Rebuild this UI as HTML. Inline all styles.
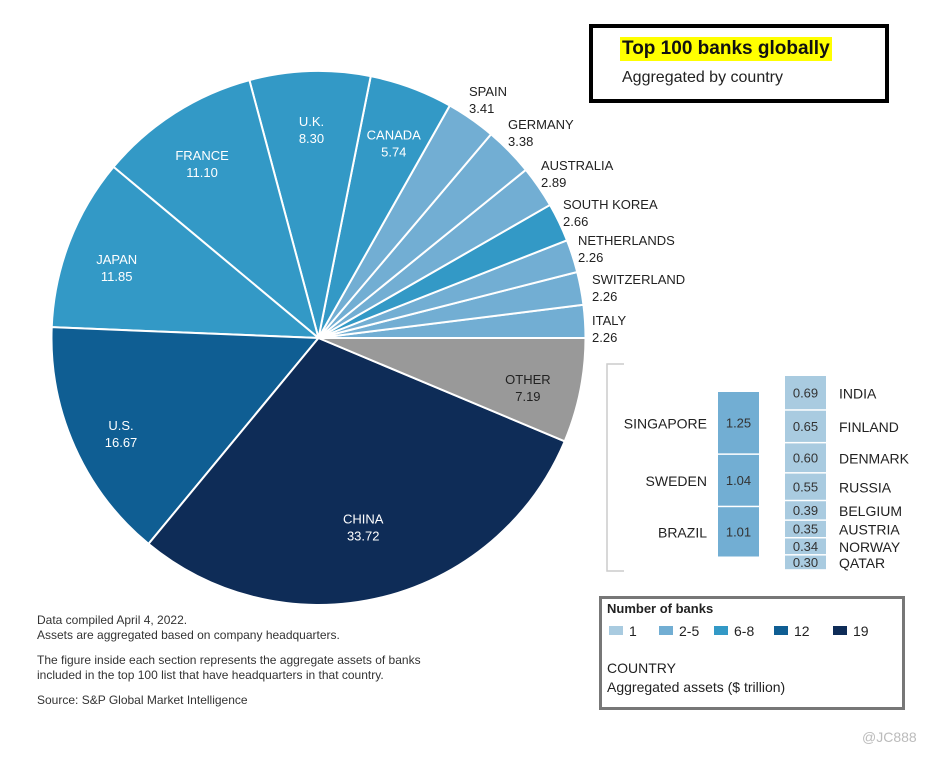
<!DOCTYPE html>
<html><head><meta charset="utf-8">
<style>
body{margin:0;background:#fff;width:941px;height:757px;overflow:hidden;font-family:"Liberation Sans",sans-serif;position:relative}
.t{position:absolute;color:#222;font-size:13px;line-height:16px}
svg{position:absolute;left:0;top:0}
</style></head><body>
<svg width="941" height="757" id="chart"></svg>

<div style="position:absolute;left:589px;top:24px;width:292px;height:71px;border:4px solid #000;box-sizing:content-box"></div>
<div class="t" style="left:620px;top:37px;font-size:19px;line-height:24px;font-weight:bold;color:#111;background:#ffff00;padding:0 2px">Top 100 banks globally</div>
<div class="t" style="left:622px;top:68px;font-size:16px;line-height:20px">Aggregated by country</div>

<div class="t" style="left:37px;top:613px;font-size:12px;line-height:15px;color:#333">Data compiled April 4, 2022.<br>Assets are aggregated based on company headquarters.<div style="height:10px"></div>The figure inside each section represents the aggregate assets of banks<br>included in the top 100 list that have headquarters in that country.<div style="height:10px"></div>Source: S&amp;P Global Market Intelligence</div>

<div style="position:absolute;left:599px;top:596px;width:300px;height:108px;border:3px solid #777"></div>
<div class="t" style="left:607px;top:601px;font-weight:bold">Number of banks</div>
<div class="t" style="left:607px;top:659px;font-size:14px;line-height:19px">COUNTRY<br>Aggregated assets ($ trillion)</div>
<div class="t" style="left:862px;top:729px;color:#bbb;font-size:14px">@JC888</div>

<script>
const countries=["ITALY","SWITZERLAND","NETHERLANDS","SOUTH KOREA","AUSTRALIA","GERMANY","SPAIN","CANADA","U.K.","FRANCE","JAPAN","U.S.","CHINA","OTHER"];
const assets=[2.26,2.26,2.26,2.66,2.89,3.38,3.41,5.74,8.30,11.10,11.85,16.67,33.72,7.19];
const bankGroup=[1,1,1,2,1,1,1,2,2,2,2,3,4,-1];
const otherLeft=["SINGAPORE","SWEDEN","BRAZIL"];
const otherLeftVals=[1.25,1.04,1.01];
const otherRight=["INDIA","FINLAND","DENMARK","RUSSIA","BELGIUM","AUSTRIA","NORWAY","QATAR"];
const otherRightVals=[0.69,0.65,0.60,0.55,0.39,0.35,0.34,0.30];
const legendLabels=["1","2-5","6-8","12","19"];
const colors=["#a9cbe0","#72aed3","#3399c6","#0f5e93","#0e2c57"];
const NS="http://www.w3.org/2000/svg";
const svg=document.getElementById('chart');
function el(t,a){const e=document.createElementNS(NS,t);for(const k in a)e.setAttribute(k,a[k]);svg.appendChild(e);return e;}
const cx=318.5,cy=338,R=267;
const total=assets.reduce((a,b)=>a+b,0);
function pt(ang,r){return [cx+r*Math.cos(ang),cy-r*Math.sin(ang)];}
let a0=0;
const outside={0:[592,313],1:[592,272],2:[578,233],3:[563,197],4:[541,158],5:[508,117],6:[469,84]};
assets.forEach((v,i)=>{
  const da=v/total*2*Math.PI;let a1=a0+da;
  const p0=pt(a0,R),p1=pt(a1,R);
  const p=el('path',{d:`M${cx},${cy}L${p0[0]},${p0[1]}A${R},${R} 0 ${da>Math.PI?1:0} 0 ${p1[0]},${p1[1]}Z`,fill:bankGroup[i]<0?'#999999':colors[bankGroup[i]],stroke:'#fff','stroke-width':2});
  
  
  const mid=(a0+a1)/2;let x,y,anchor='middle',col='#fff';
  if(outside[i]){[x,y]=outside[i];anchor='start';col='#222';}
  else{const f=i==13?0.8:(i==12?0.7:0.81);[x,y]=pt(mid,R*f);y-=8;}
  const t1=el('text',{x:x,y:y+12,'text-anchor':anchor,fill:col,'font-size':13,'font-family':'Liberation Sans, sans-serif'});
  t1.textContent=countries[i];
  
  
  if(i==13)t1.setAttribute('fill','#222');
  const t2=el('text',{x:x,y:y+29,'text-anchor':anchor,fill:i==13?'#222':col,'font-size':13,'font-family':'Liberation Sans, sans-serif'});
  t2.textContent=v.toFixed(2);
  
  
  a0=a1;
});
const br=el('path',{d:'M624,364H607V571H624',fill:'none',stroke:'#ccc','stroke-width':1.5});


const k=166/(otherLeftVals.reduce((a,b)=>a+b,0));
function stack(names,vals,x,y0,w,col,labelLeft){
  let y=y0;
  vals.forEach((v,i)=>{
    const h=v*k;
    const r=el('rect',{x:x,y:y,width:w,height:h-1.5,fill:col});
    
    
    const tv=el('text',{x:x+w/2,y:y+h/2+4,'text-anchor':'middle',fill:'#333','font-size':13,'font-family':'Liberation Sans, sans-serif'});
    tv.textContent=v.toFixed(2);
    
    
    const tn=el('text',{x:labelLeft?x-11:x+w+13,y:y+h/2+5,'text-anchor':labelLeft?'end':'start',fill:'#222','font-size':14,'font-family':'Liberation Sans, sans-serif'});
    tn.textContent=names[i];
    
    
    y+=h;
  });
}
stack(otherLeft,otherLeftVals,718,392,41,colors[1],true);
stack(otherRight,otherRightVals,785,376,41,colors[0],false);
legendLabels.forEach((l,i)=>{
  const x=609+[0,50,105,165,224][i];
  const r=el('rect',{x:x,y:626,width:14,height:9,fill:colors[i]});
  
  
  const t=el('text',{x:x+20,y:636,fill:'#222','font-size':14,'font-family':'Liberation Sans, sans-serif'});
  t.textContent=l;
  
  
});
</script>
</body></html>
